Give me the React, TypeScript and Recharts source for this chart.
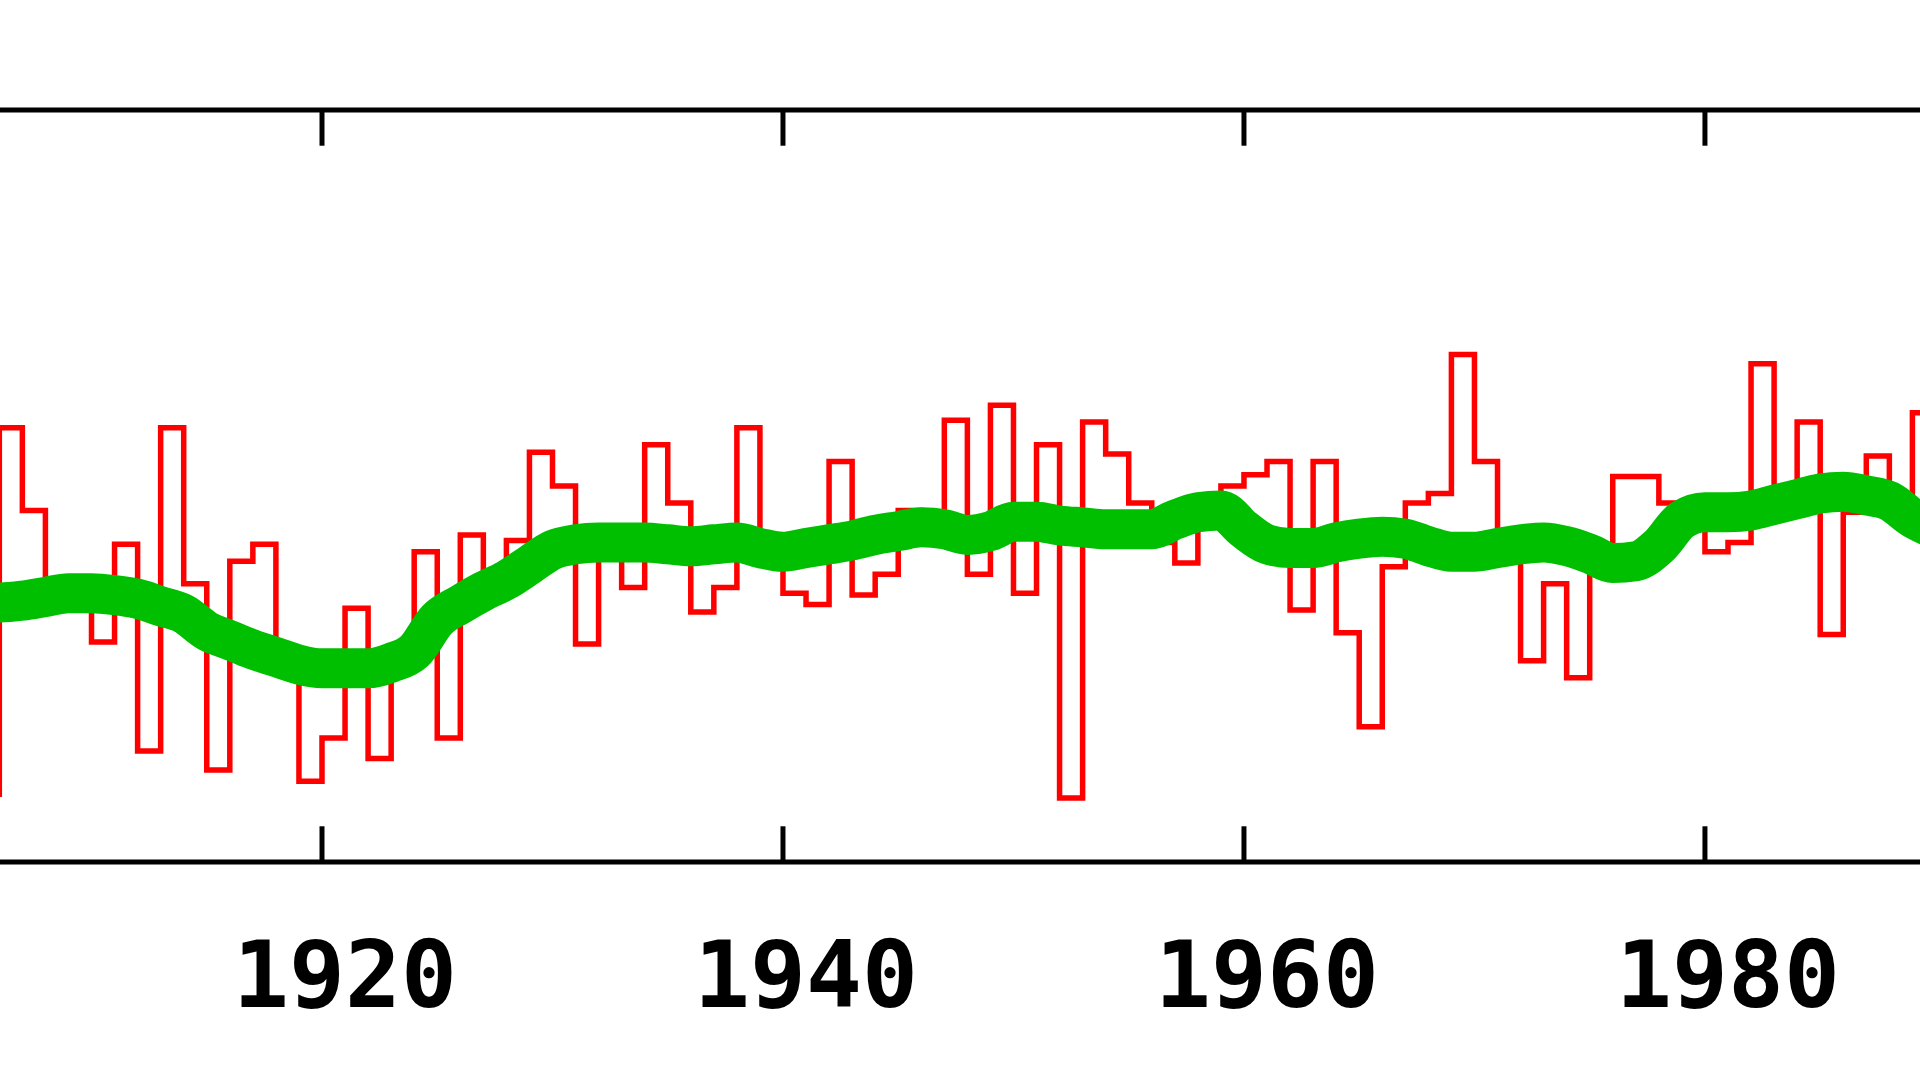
import React from 'react';
import { LineChart, Line, XAxis, YAxis, ReferenceLine } from 'recharts';

// Annual values (step line), one per year
const years = [
  1905, 1906, 1907, 1908, 1909, 1910, 1911, 1912, 1913, 1914,
  1915, 1916, 1917, 1918, 1919, 1920, 1921, 1922, 1923, 1924,
  1925, 1926, 1927, 1928, 1929, 1930, 1931, 1932, 1933, 1934,
  1935, 1936, 1937, 1938, 1939, 1940, 1941, 1942, 1943, 1944,
  1945, 1946, 1947, 1948, 1949, 1950, 1951, 1952, 1953, 1954,
  1955, 1956, 1957, 1958, 1959, 1960, 1961, 1962, 1963, 1964,
  1965, 1966, 1967, 1968, 1969, 1970, 1971, 1972, 1973, 1974,
  1975, 1976, 1977, 1978, 1979, 1980, 1981, 1982, 1983, 1984,
  1985, 1986, 1987, 1988, 1989,
];
const annual = [
  -1.64, 0.31, -0.13, -0.61, -0.66, -0.83, -0.31, -1.41, 0.31, -0.52,
  -1.51, -0.40, -0.31, -0.90, -1.57, -1.34, -0.65, -1.45, -0.97, -0.35,
  -1.34, -0.26, -0.52, -0.29, 0.18, 0.0, -0.84, -0.32, -0.54, 0.22,
  -0.09, -0.67, -0.54, 0.31, -0.40, -0.57, -0.63, 0.13, -0.58, -0.47,
  -0.13, -0.14, 0.35, -0.47, 0.43, -0.57, 0.22, -1.66, 0.34, 0.17,
  -0.09, -0.30, -0.41, -0.16, 0.0, 0.06, 0.13, -0.66, 0.13, -0.78,
  -1.28, -0.43, -0.09, -0.04, 0.70, 0.13, -0.40, -0.93, -0.52, -1.02,
  -0.40, 0.05, 0.05, -0.09, -0.21, -0.35, -0.30, 0.65, -0.08, 0.34,
  -0.79, -0.14, 0.16, -0.13, 0.39,
];

// Smoothed curve
const smoothYears = [
  1905, 1906, 1907, 1908, 1909, 1910, 1911, 1912, 1913, 1914,
  1915, 1916, 1917, 1918, 1919, 1920, 1921, 1922, 1923, 1924,
  1925, 1926, 1927, 1928, 1929, 1930, 1931, 1932, 1933, 1934,
  1935, 1936, 1937, 1938, 1939, 1940, 1941, 1942, 1943, 1944,
  1945, 1946, 1947, 1948, 1949, 1950, 1951, 1952, 1953, 1954,
  1955, 1956, 1957, 1958, 1959, 1960, 1961, 1962, 1963, 1964,
  1965, 1966, 1967, 1968, 1969, 1970, 1971, 1972, 1973, 1974,
  1975, 1976, 1977, 1978, 1979, 1980, 1981, 1982, 1983, 1984,
  1985, 1986, 1987, 1988, 1989, 1990,
];
const smooth = [
  -0.62, -0.62, -0.61, -0.59, -0.57, -0.57, -0.58, -0.60, -0.64, -0.68,
  -0.77, -0.82, -0.87, -0.91, -0.95, -0.97, -0.97, -0.97, -0.94, -0.88,
  -0.71, -0.63, -0.56, -0.50, -0.42, -0.34, -0.31, -0.30, -0.30, -0.30,
  -0.31, -0.32, -0.31, -0.30, -0.33, -0.35, -0.33, -0.31, -0.29, -0.26,
  -0.24, -0.22, -0.23, -0.26, -0.24, -0.19, -0.19, -0.21, -0.22, -0.23,
  -0.23, -0.23, -0.18, -0.14, -0.13, -0.23, -0.31, -0.33, -0.33, -0.30,
  -0.28, -0.27, -0.28, -0.32, -0.35, -0.35, -0.33, -0.31, -0.30, -0.32,
  -0.36, -0.41, -0.40, -0.32, -0.18, -0.14, -0.14, -0.13, -0.10, -0.07,
  -0.04, -0.03, -0.05, -0.08, -0.17, -0.23,
];

const xTicks = [1920, 1940, 1960, 1980];
const xDomain = [1906.03, 1989.33];
const yDomain = [-2, 2];

const annualData = years.map((y, i) => ({ x: y + 0.5, v: annual[i] }));
const smoothData = smoothYears.map((y, i) => ({ x: y, v: smooth[i] }));

const TICK_LEN = 0.19;

const TickLabel = (props: any) => {
  const { x, y, payload } = props;
  return (
    <text
      x={x + 23}
      y={y + 145}
      textAnchor="middle"
      fontFamily="'DejaVu Sans Mono', monospace"
      fontWeight="bold"
      fontSize={93}
      fill="#000"
    >
      {payload.value}
    </text>
  );
};

export default function App() {
  return (
    <div
      style={{
        position: 'fixed',
        left: 0,
        top: 0,
        width: 1920,
        height: 1080,
        overflow: 'hidden',
        background: '#fff',
      }}
    >
      <LineChart width={1920} height={1080} margin={{ top: 110, right: 0, bottom: 0, left: 0 }}>
        <XAxis
          dataKey="x"
          type="number"
          domain={xDomain}
          allowDataOverflow
          ticks={xTicks}
          height={218}
          axisLine={{ stroke: '#000', strokeWidth: 5 }}
          tickLine={false}
          tickSize={0}
          tickMargin={0}
          tick={TickLabel}
          interval={0}
        />
        <YAxis hide type="number" domain={yDomain} allowDataOverflow />
        <Line
          data={annualData}
          dataKey="v"
          type="step"
          stroke="#ff0000"
          strokeWidth={5.5}
          dot={false}
          isAnimationActive={false}
        />
        <Line
          data={smoothData}
          dataKey="v"
          type="monotone"
          stroke="#00bf00"
          strokeWidth={40}
          dot={false}
          isAnimationActive={false}
        />
        <ReferenceLine y={yDomain[1]} stroke="#000" strokeWidth={5} ifOverflow="visible" />
        {xTicks.map((t) => (
          <ReferenceLine
            key={'b' + t}
            segment={[{ x: t, y: yDomain[0] }, { x: t, y: yDomain[0] + TICK_LEN }]}
            stroke="#000"
            strokeWidth={5}
            ifOverflow="visible"
          />
        ))}
        {xTicks.map((t) => (
          <ReferenceLine
            key={'t' + t}
            segment={[{ x: t, y: yDomain[1] }, { x: t, y: yDomain[1] - TICK_LEN }]}
            stroke="#000"
            strokeWidth={5}
            ifOverflow="visible"
          />
        ))}
      </LineChart>
    </div>
  );
}
